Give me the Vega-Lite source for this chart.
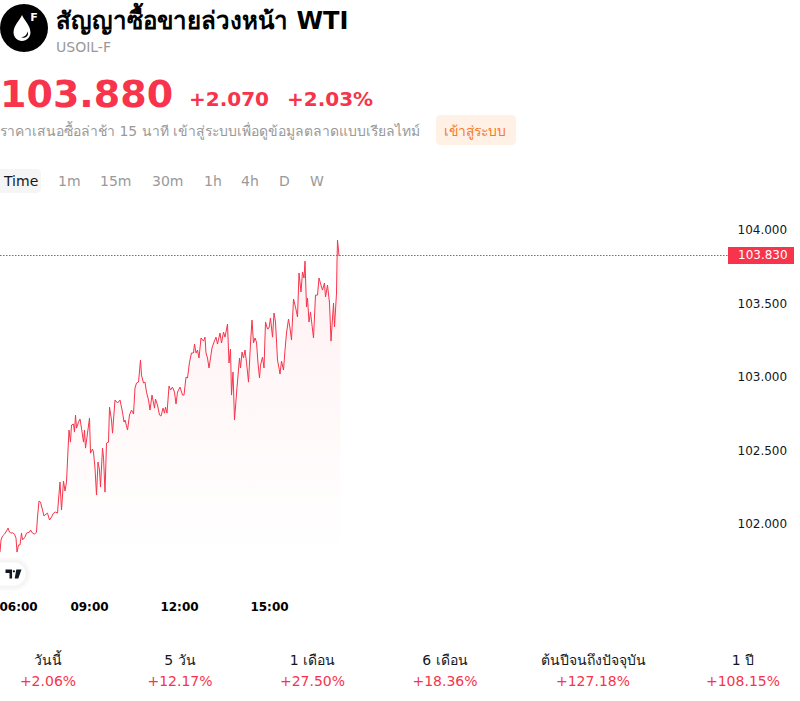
{
"$schema":"https://vega.github.io/schema/vega-lite/v6.json",
"width":800,"height":701,"padding":0,"autosize":{"type":"none"},"background":"white",
"config":{"font":"DejaVu Sans","view":{"stroke":null},"text":{"align":"left","baseline":"alphabetic"}},
"resolve":{"scale":{"x":"independent","y":"independent"}},
"data":{"format":{"parse":{"time":"utc:'%H:%M'"}},"values":[
{"time":"06:02","price":101.806},{"time":"06:04","price":101.888},{"time":"06:07","price":101.915},{"time":"06:11","price":101.928},{"time":"06:15","price":101.949},{"time":"06:18","price":101.969},{"time":"06:21","price":101.942},{"time":"06:24","price":101.935},{"time":"06:27","price":101.937},{"time":"06:31","price":101.928},{"time":"06:34","price":101.901},{"time":"06:36","price":101.806},{"time":"06:39","price":101.854},{"time":"06:42","price":101.854},{"time":"06:45","price":101.935},{"time":"06:47","price":101.888},{"time":"06:52","price":101.908},{"time":"06:55","price":101.935},{"time":"07:01","price":101.942},{"time":"07:03","price":101.956},{"time":"07:07","price":101.935},{"time":"07:11","price":101.928},{"time":"07:15","price":101.942},{"time":"07:17","price":102.044},{"time":"07:20","price":102.153},{"time":"07:23","price":102.146},{"time":"07:27","price":102.092},{"time":"07:30","price":102.051},{"time":"07:34","price":102.064},{"time":"07:37","price":102.071},{"time":"07:41","price":102.024},{"time":"07:45","price":102.044},{"time":"07:49","price":102.071},{"time":"07:53","price":102.078},{"time":"07:57","price":102.071},{"time":"07:59","price":102.160},{"time":"08:02","price":102.282},{"time":"08:05","price":102.092},{"time":"08:09","price":102.289},{"time":"08:12","price":102.221},{"time":"08:15","price":102.282},{"time":"08:18","price":102.500},{"time":"08:20","price":102.636},{"time":"08:23","price":102.554},{"time":"08:25","price":102.670},{"time":"08:29","price":102.677},{"time":"08:31","price":102.622},{"time":"08:33","price":102.738},{"time":"08:35","price":102.649},{"time":"08:39","price":102.690},{"time":"08:42","price":102.711},{"time":"08:45","price":102.649},{"time":"08:49","price":102.554},{"time":"08:51","price":102.636},{"time":"08:53","price":102.513},{"time":"08:57","price":102.615},{"time":"09:01","price":102.717},{"time":"09:03","price":102.479},{"time":"09:07","price":102.507},{"time":"09:09","price":102.486},{"time":"09:12","price":102.377},{"time":"09:15","price":102.194},{"time":"09:18","price":102.418},{"time":"09:21","price":102.364},{"time":"09:23","price":102.248},{"time":"09:27","price":102.513},{"time":"09:29","price":102.452},{"time":"09:32","price":102.214},{"time":"09:35","price":102.547},{"time":"09:39","price":102.554},{"time":"09:41","price":102.792},{"time":"09:45","price":102.704},{"time":"09:47","price":102.615},{"time":"09:52","price":102.840},{"time":"09:57","price":102.820},{"time":"10:02","price":102.840},{"time":"10:07","price":102.758},{"time":"10:10","price":102.690},{"time":"10:12","price":102.704},{"time":"10:17","price":102.636},{"time":"10:21","price":102.738},{"time":"10:25","price":102.772},{"time":"10:29","price":102.745},{"time":"10:32","price":102.922},{"time":"10:35","price":102.956},{"time":"10:39","price":102.962},{"time":"10:43","price":103.112},{"time":"10:45","price":103.010},{"time":"10:49","price":102.956},{"time":"10:52","price":102.962},{"time":"10:55","price":102.894},{"time":"10:59","price":102.840},{"time":"11:02","price":102.772},{"time":"11:06","price":102.874},{"time":"11:11","price":102.785},{"time":"11:13","price":102.847},{"time":"11:17","price":102.806},{"time":"11:21","price":102.738},{"time":"11:24","price":102.731},{"time":"11:28","price":102.785},{"time":"11:31","price":102.751},{"time":"11:33","price":102.792},{"time":"11:36","price":102.751},{"time":"11:40","price":102.935},{"time":"11:43","price":102.908},{"time":"11:47","price":102.928},{"time":"11:51","price":102.894},{"time":"11:54","price":102.813},{"time":"11:57","price":102.894},{"time":"12:02","price":102.928},{"time":"12:07","price":102.874},{"time":"12:10","price":102.874},{"time":"12:14","price":102.996},{"time":"12:17","price":102.990},{"time":"12:21","price":103.098},{"time":"12:25","price":103.160},{"time":"12:29","price":103.160},{"time":"12:31","price":103.221},{"time":"12:34","price":103.160},{"time":"12:37","price":103.180},{"time":"12:40","price":103.126},{"time":"12:44","price":103.262},{"time":"12:49","price":103.241},{"time":"12:52","price":103.268},{"time":"12:54","price":103.160},{"time":"12:57","price":103.126},{"time":"13:00","price":103.058},{"time":"13:03","price":103.126},{"time":"13:06","price":103.194},{"time":"13:10","price":103.234},{"time":"13:14","price":103.268},{"time":"13:17","price":103.221},{"time":"13:22","price":103.296},{"time":"13:25","price":103.228},{"time":"13:29","price":103.302},{"time":"13:32","price":103.268},{"time":"13:37","price":103.357},{"time":"13:40","price":103.092},{"time":"13:43","price":103.187},{"time":"13:45","price":102.874},{"time":"13:48","price":103.030},{"time":"13:51","price":102.704},{"time":"13:56","price":102.928},{"time":"14:01","price":103.126},{"time":"14:03","price":103.058},{"time":"14:06","price":103.166},{"time":"14:09","price":103.126},{"time":"14:12","price":103.180},{"time":"14:15","price":103.098},{"time":"14:19","price":102.962},{"time":"14:23","price":103.228},{"time":"14:26","price":103.384},{"time":"14:29","price":103.228},{"time":"14:32","price":103.262},{"time":"14:35","price":103.234},{"time":"14:38","price":103.092},{"time":"14:41","price":102.990},{"time":"14:43","price":103.078},{"time":"14:47","price":103.132},{"time":"14:50","price":103.058},{"time":"14:53","price":103.371},{"time":"14:57","price":103.323},{"time":"15:00","price":103.330},{"time":"15:03","price":103.398},{"time":"15:07","price":103.268},{"time":"15:10","price":103.432},{"time":"15:13","price":103.371},{"time":"15:17","price":103.112},{"time":"15:20","price":103.058},{"time":"15:22","price":103.017},{"time":"15:25","price":103.105},{"time":"15:29","price":103.044},{"time":"15:32","price":103.180},{"time":"15:35","price":103.296},{"time":"15:39","price":103.391},{"time":"15:42","price":103.330},{"time":"15:45","price":103.248},{"time":"15:49","price":103.527},{"time":"15:53","price":103.473},{"time":"15:57","price":103.405},{"time":"16:00","price":103.704},{"time":"16:04","price":103.575},{"time":"16:07","price":103.711},{"time":"16:10","price":103.670},{"time":"16:12","price":103.785},{"time":"16:15","price":103.473},{"time":"16:17","price":103.534},{"time":"16:20","price":103.371},{"time":"16:23","price":103.439},{"time":"16:26","price":103.350},{"time":"16:29","price":103.262},{"time":"16:33","price":103.554},{"time":"16:37","price":103.554},{"time":"16:40","price":103.670},{"time":"16:44","price":103.622},{"time":"16:47","price":103.588},{"time":"16:51","price":103.636},{"time":"16:53","price":103.541},{"time":"16:57","price":103.622},{"time":"17:01","price":103.500},{"time":"17:04","price":103.241},{"time":"17:09","price":103.500},{"time":"17:11","price":103.337},{"time":"17:15","price":103.568},{"time":"17:16","price":103.779},{"time":"17:17","price":103.928},{"time":"17:19","price":103.860},{"time":"17:20","price":103.820},{"time":"17:22","price":103.826},{"time":"17:23","price":103.823}
]},
"layer":[
{"mark":{"type":"area","line":false,"color":{"gradient":"linear","x1":0,"y1":0,"x2":0,"y2":1,"stops":[{"offset":0,"color":"#fff0f2"},{"offset":1,"color":"#ffffff"}]}},
"encoding":{
"x":{"field":"time","type":"temporal","axis":null,"scale":{"type":"utc","range":[-1,800],"domain":[{"year":1900,"month":1,"date":1,"hours":6,"minutes":0,"utc":true},{"year":1900,"month":1,"date":2,"hours":8,"minutes":42,"utc":true}]}},
"y":{"field":"price","type":"quantitative","axis":null,"scale":{"domain":[100.793,105.561],"range":[701,0],"zero":false,"nice":false}},
"y2":{"datum":101.8}}},
{"mark":{"type":"line","color":"#f7344b","strokeWidth":1,"interpolate":"linear"},
"encoding":{
"x":{"field":"time","type":"temporal","scale":{"type":"utc","range":[-1,800],"domain":[{"year":1900,"month":1,"date":1,"hours":6,"minutes":0,"utc":true},{"year":1900,"month":1,"date":2,"hours":8,"minutes":42,"utc":true}]},
"axis":{"orient":"bottom","offset":-100,"title":null,"grid":false,"domain":false,"ticks":false,"tickSize":0,"labelPadding":0,"labelFontSize":12,"labelFontWeight":"bold","labelColor":"#000000","format":"%H:%M","labelOverlap":false,"labelBaseline":"top",
"values":[{"year":1900,"month":1,"date":1,"hours":6,"utc":true},{"year":1900,"month":1,"date":1,"hours":9,"utc":true},{"year":1900,"month":1,"date":1,"hours":12,"utc":true},{"year":1900,"month":1,"date":1,"hours":15,"utc":true}],
"encode":{"labels":{"update":{"align":{"signal":"datum.label==='06:00'?'left':'center'"},"dx":{"signal":"datum.label==='06:00'?1:-2"}}}}}},
"y":{"field":"price","type":"quantitative","scale":{"domain":[100.793,105.561],"range":[701,0],"zero":false,"nice":false},
"axis":{"orient":"right","offset":-63,"title":null,"grid":false,"domain":false,"ticks":false,"tickSize":0,"labelPadding":0,"labelFontSize":12,"labelColor":"#131722","format":".3f","values":[102,102.5,103,103.5,104],"labelAlign":"left"}}}},
{"data":{"values":[{"last":103.83}]},"mark":{"type":"rule","color":"#f7344b","strokeWidth":1,"strokeDash":[1.5,1.5]},
"encoding":{
"x":{"datum":{"year":1900,"month":1,"date":1,"hours":6,"minutes":2,"utc":true},"type":"temporal","axis":null,"scale":{"type":"utc","range":[-1,800],"domain":[{"year":1900,"month":1,"date":1,"hours":6,"minutes":0,"utc":true},{"year":1900,"month":1,"date":2,"hours":8,"minutes":42,"utc":true}]}},
"x2":{"datum":{"year":1900,"month":1,"date":2,"hours":6,"minutes":18,"utc":true}},
"y":{"field":"last","type":"quantitative","axis":null,"scale":{"domain":[100.793,105.561],"range":[702,1],"zero":false,"nice":false}}}},
{"data":{"values":[{"last":103.83,"slot":0}]},"mark":{"type":"point","filled":true,"opacity":1,"color":"#f7344b","size":4356,"shape":"M-1,-0.258 H1 V0.258 H-1 Z"},
"encoding":{"x":{"field":"slot","type":"quantitative","axis":null,"scale":{"domain":[0,1],"range":[761,762]}},
"y":{"field":"last","type":"quantitative","axis":null,"scale":{"domain":[100.793,105.561],"range":[702,1],"zero":false,"nice":false}}}},
{"data":{"values":[{"last":103.83,"slot":0,"label":"103.830"}]},"mark":{"type":"text","fontSize":12,"color":"#ffffff","baseline":"middle"},
"encoding":{"text":{"field":"label"},"x":{"field":"slot","type":"quantitative","axis":null,"scale":{"domain":[0,1],"range":[738,739]}},
"y":{"field":"last","type":"quantitative","axis":null,"scale":{"domain":[100.793,105.561],"range":[702,1],"zero":false,"nice":false}}}},
{"data":{"values":[{"slot":0}]},"mark":{"type":"point","filled":true,"opacity":1,"color":"#ffffff","stroke":"#fafafa","strokeWidth":7,"size":1936,"shape":"M-1,-0.59 H0.41 A0.59,0.59 0 0 1 0.41,0.59 H-1 Z"},
"encoding":{"x":{"field":"slot","type":"quantitative","axis":null,"scale":{"domain":[0,1],"range":[5,6]}},"y":{"field":"slot","type":"quantitative","axis":null,"scale":{"domain":[0,1],"range":[574,575]}}}},
{"data":{"values":[{"slot":0}]},"mark":{"type":"point","filled":true,"opacity":1,"color":"#ffffff","stroke":"#f5f5f5","strokeWidth":3,"size":1936,"shape":"M-1,-0.59 H0.41 A0.59,0.59 0 0 1 0.41,0.59 H-1 Z"},
"encoding":{"x":{"field":"slot","type":"quantitative","axis":null,"scale":{"domain":[0,1],"range":[5,6]}},"y":{"field":"slot","type":"quantitative","axis":null,"scale":{"domain":[0,1],"range":[574,575]}}}},
{"data":{"values":[{"slot":0}]},"mark":{"type":"point","filled":true,"opacity":1,"color":"#131722","size":256,"shape":"M-1,-0.55 L-0.18,-0.55 L-0.18,0.55 L-0.5,0.55 L-0.5,-0.12 L-1,-0.12 Z M-0.09,-0.33 A0.14,0.14 0 1 1 0.19,-0.33 A0.14,0.14 0 1 1 -0.09,-0.33 Z M0.35,-0.55 L1,-0.55 L0.6,0.55 L0.15,0.55 Z"},
"encoding":{"x":{"field":"slot","type":"quantitative","axis":null,"scale":{"domain":[0,1],"range":[13.5,14.5]}},"y":{"field":"slot","type":"quantitative","axis":null,"scale":{"domain":[0,1],"range":[574,575]}}}},
{"data":{"values":[{"slot":0}]},"mark":{"type":"point","filled":true,"opacity":1,"color":"#000000","size":2304,"shape":"circle"},
"encoding":{"x":{"field":"slot","type":"quantitative","axis":null,"scale":{"domain":[0,1],"range":[24,25]}},"y":{"field":"slot","type":"quantitative","axis":null,"scale":{"domain":[0,1],"range":[28,29]}}}},
{"data":{"values":[{"slot":0}]},"mark":{"type":"point","filled":true,"opacity":1,"color":"#ffffff","size":676,"shape":"M0,-1 C0.2,-0.55 0.65,-0.2 0.65,0.35 A0.65,0.65 0 0 1 -0.65,0.35 C-0.65,-0.2 -0.2,-0.55 0,-1 Z"},
"encoding":{"x":{"field":"slot","type":"quantitative","axis":null,"scale":{"domain":[0,1],"range":[22,23]}},"y":{"field":"slot","type":"quantitative","axis":null,"scale":{"domain":[0,1],"range":[28,29]}}}},
{"data":{"values":[{"slot":0}]},"mark":{"type":"point","filled":true,"opacity":1,"color":"#000000","size":676,"shape":"M0.42,0.25 C0.42,0.5 0.2,0.7 -0.1,0.72 C0.25,0.85 0.58,0.6 0.42,0.25 Z"},
"encoding":{"x":{"field":"slot","type":"quantitative","axis":null,"scale":{"domain":[0,1],"range":[22,23]}},"y":{"field":"slot","type":"quantitative","axis":null,"scale":{"domain":[0,1],"range":[28,29]}}}},
{"data":{"values":[{"slot":0,"label":"F"}]},"mark":{"type":"text","fontSize":11,"fontWeight":"bold","color":"#ffffff","align":"center"},
"encoding":{"text":{"field":"label"},"x":{"field":"slot","type":"quantitative","axis":null,"scale":{"domain":[0,1],"range":[34,35]}},"y":{"field":"slot","type":"quantitative","axis":null,"scale":{"domain":[0,1],"range":[21,22]}}}},
{"data":{"values":[{"slot":0,"label":"สัญญาซื้อขายล่วงหน้า WTI"}]},"mark":{"type":"text","fontSize":24.1,"fontWeight":"bold","color":"#000000"},
"encoding":{"text":{"field":"label"},"x":{"field":"slot","type":"quantitative","axis":null,"scale":{"domain":[0,1],"range":[56,57]}},"y":{"field":"slot","type":"quantitative","axis":null,"scale":{"domain":[0,1],"range":[29,30]}}}},
{"data":{"values":[{"slot":0,"label":"USOIL-F"}]},"mark":{"type":"text","fontSize":14,"color":"#999999"},
"encoding":{"text":{"field":"label"},"x":{"field":"slot","type":"quantitative","axis":null,"scale":{"domain":[0,1],"range":[56,57]}},"y":{"field":"slot","type":"quantitative","axis":null,"scale":{"domain":[0,1],"range":[52,53]}}}},
{"data":{"values":[{"slot":0,"label":"ราคาเสนอซื้อล่าช้า 15 นาที เข้าสู่ระบบเพื่อดูข้อมูลตลาดแบบเรียลไทม์"}]},"mark":{"type":"text","fontSize":13.95,"color":"#999999"},
"encoding":{"text":{"field":"label"},"x":{"field":"slot","type":"quantitative","axis":null,"scale":{"domain":[0,1],"range":[0,1]}},"y":{"field":"slot","type":"quantitative","axis":null,"scale":{"domain":[0,1],"range":[136,137]}}}},
{"data":{"values":[{"slot":0,"label":"103.880"}]},"mark":{"type":"text","fontSize":38,"fontWeight":"bold","color":"#f7344b"},
"encoding":{"text":{"field":"label"},"x":{"field":"slot","type":"quantitative","axis":null,"scale":{"domain":[0,1],"range":[0,1]}},"y":{"field":"slot","type":"quantitative","axis":null,"scale":{"domain":[0,1],"range":[107,108]}}}},
{"data":{"values":[{"slot":0,"label":"+2.070"},{"slot":1,"label":"+2.03%"}]},"mark":{"type":"text","fontSize":20,"fontWeight":"bold","color":"#f7344b"},
"encoding":{"text":{"field":"label"},"x":{"field":"slot","type":"quantitative","axis":null,"scale":{"domain":[0,1],"range":[189,287]}},"y":{"field":"slot","type":"quantitative","axis":null,"scale":{"domain":[0,1],"range":[106,106]}}}},
{"data":{"values":[{"slot":0}]},"mark":{"type":"point","filled":true,"opacity":1,"color":"#fff1e6","size":6400,"shape":"M-0.9,-0.375 H0.9 A0.1,0.1 0 0 1 1,-0.275 V0.275 A0.1,0.1 0 0 1 0.9,0.375 H-0.9 A0.1,0.1 0 0 1 -1,0.275 V-0.275 A0.1,0.1 0 0 1 -0.9,-0.375 Z"},
"encoding":{"x":{"field":"slot","type":"quantitative","axis":null,"scale":{"domain":[0,1],"range":[476,477]}},"y":{"field":"slot","type":"quantitative","axis":null,"scale":{"domain":[0,1],"range":[130,131]}}}},
{"data":{"values":[{"slot":0,"label":"เข้าสู่ระบบ"}]},"mark":{"type":"text","fontSize":13.9,"color":"#f97a1f"},
"encoding":{"text":{"field":"label"},"x":{"field":"slot","type":"quantitative","axis":null,"scale":{"domain":[0,1],"range":[444,445]}},"y":{"field":"slot","type":"quantitative","axis":null,"scale":{"domain":[0,1],"range":[136,137]}}}},
{"data":{"values":[{"slot":0}]},"mark":{"type":"point","filled":true,"opacity":1,"color":"#f5f5f5","size":1764,"shape":"M-1,-0.57 H0.8 A0.2,0.2 0 0 1 1,-0.37 V0.37 A0.2,0.2 0 0 1 0.8,0.57 H-1 Z"},
"encoding":{"x":{"field":"slot","type":"quantitative","axis":null,"scale":{"domain":[0,1],"range":[20,21]}},"y":{"field":"slot","type":"quantitative","axis":null,"scale":{"domain":[0,1],"range":[181,182]}}}},
{"data":{"values":[{"slot":0,"label":"Time"}]},"mark":{"type":"text","fontSize":14,"color":"#131722"},
"encoding":{"text":{"field":"label"},"x":{"field":"slot","type":"quantitative","axis":null,"scale":{"domain":[0,1],"range":[4,5]}},"y":{"field":"slot","type":"quantitative","axis":null,"scale":{"domain":[0,1],"range":[186,187]}}}},
{"data":{"values":[{"slot":0,"label":"1m"},{"slot":1,"label":"15m"},{"slot":2,"label":"30m"},{"slot":3,"label":"1h"},{"slot":4,"label":"4h"},{"slot":5,"label":"D"},{"slot":6,"label":"W"}]},"mark":{"type":"text","fontSize":14,"color":"#999999"},
"encoding":{"text":{"field":"label"},"x":{"field":"slot","type":"quantitative","axis":null,"scale":{"domain":[0,1,2,3,4,5,6],"range":[58,100,152,204,241,279,310]}},"y":{"datum":0,"type":"quantitative","axis":null,"scale":{"domain":[0,1],"range":[186,187]}}}},
{"data":{"values":[{"slot":0,"period":"วันนี้","change":"+2.06%"},{"slot":1,"period":"5 วัน","change":"+12.17%"},{"slot":2,"period":"1 เดือน","change":"+27.50%"},{"slot":3,"period":"6 เดือน","change":"+18.36%"},{"slot":4,"period":"ต้นปีจนถึงปัจจุบัน","change":"+127.18%"},{"slot":5,"period":"1 ปี","change":"+108.15%"}]},"mark":{"type":"text","fontSize":14,"color":"#131722","align":"center"},
"encoding":{"text":{"field":"period"},"x":{"field":"slot","type":"quantitative","axis":null,"scale":{"domain":[0,1,2,3,4,5],"range":[48,180,312.5,445,593,743]}},"y":{"datum":0,"type":"quantitative","axis":null,"scale":{"domain":[0,1],"range":[665,666]}}}},
{"data":{"values":[{"slot":0,"period":"วันนี้","change":"+2.06%"},{"slot":1,"period":"5 วัน","change":"+12.17%"},{"slot":2,"period":"1 เดือน","change":"+27.50%"},{"slot":3,"period":"6 เดือน","change":"+18.36%"},{"slot":4,"period":"ต้นปีจนถึงปัจจุบัน","change":"+127.18%"},{"slot":5,"period":"1 ปี","change":"+108.15%"}]},"mark":{"type":"text","fontSize":14,"color":"#f7344b","align":"center"},
"encoding":{"text":{"field":"change"},"x":{"field":"slot","type":"quantitative","axis":null,"scale":{"domain":[0,1,2,3,4,5],"range":[48,180,312.5,445,593,743]}},"y":{"datum":0,"type":"quantitative","axis":null,"scale":{"domain":[0,1],"range":[686,687]}}}}
]
}
